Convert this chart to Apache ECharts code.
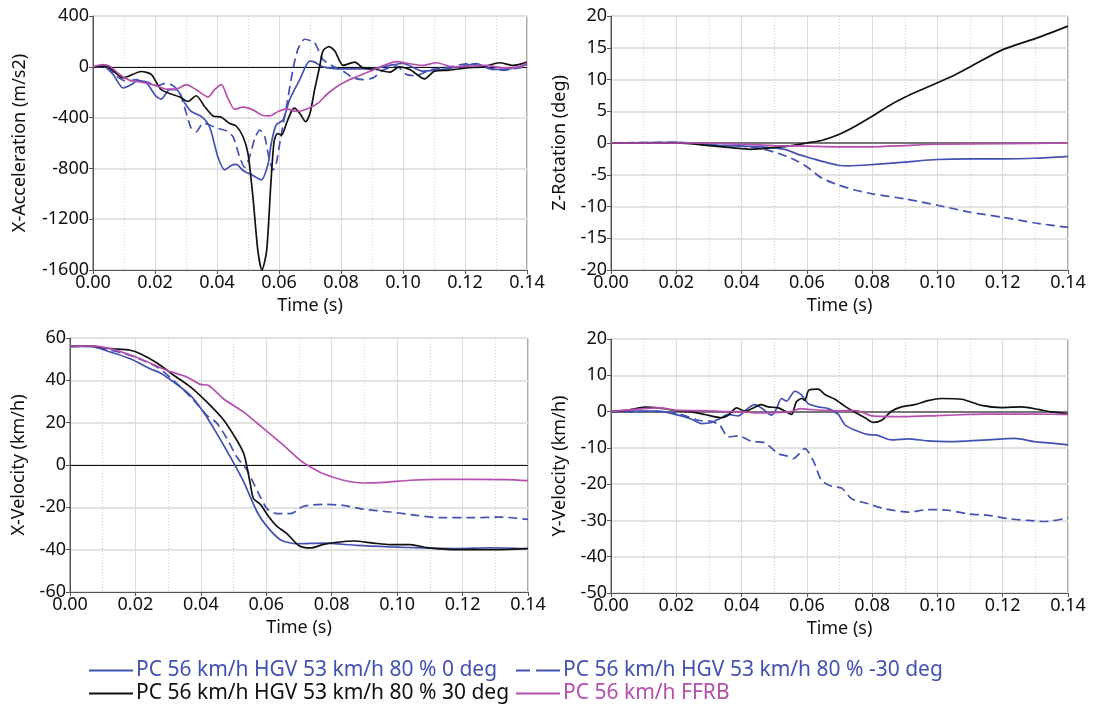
<!DOCTYPE html>
<html>
<head>
    <meta charset="UTF-8">
    <title>Crash pulse comparison</title>
    <script src="https://cdn.jsdelivr.net/npm/echarts@6/dist/echarts.min.js"></script>
    <style>
        html, body {margin: 0; padding: 0; background: #fff;}
        #main {width: 1094px; height: 708px;}
    </style>
</head>
<body>
<div id="main"></div>
<script>
    // series names (legend)
    var names = [
        'PC 56 km/h HGV 53 km/h 80 % 0 deg',
        'PC 56 km/h HGV 53 km/h 80 % -30 deg',
        'PC 56 km/h HGV 53 km/h 80 % 30 deg',
        'PC 56 km/h FFRB'
    ];
    var timeTicks = [0, 0.02, 0.04, 0.06, 0.08, 0.10, 0.12, 0.14];

    // X-Acceleration (m/s2)  [time, value]
    var accX_0 = [[0,0],[0.0032,5],[0.0065,-61],[0.0097,-167],[0.0124,-140],[0.0145,-106],[0.0172,-127],[0.0204,-233],[0.022,-254],[0.0247,-180],[0.0269,-180],[0.0296,-286],[0.0317,-352],[0.035,-392],[0.0376,-472],[0.0403,-710],[0.0425,-811],[0.0446,-777],[0.0462,-769],[0.0484,-816],[0.0516,-856],[0.0543,-890],[0.0565,-763],[0.0575,-604],[0.0591,-458],[0.0613,-419],[0.0634,-260],[0.0667,-101],[0.0699,45],[0.0715,37],[0.0742,0],[0.0807,-16],[0.0893,-16],[0.0957,11],[0.1,26],[0.1064,-34],[0.1129,-21],[0.1193,5],[0.1236,26],[0.129,-21],[0.1344,-16],[0.14,18]];
    var accX_m30 = [[0,0],[0.0043,0],[0.0075,-74],[0.0108,-114],[0.014,-101],[0.0177,-122],[0.0204,-154],[0.0231,-132],[0.0258,-148],[0.028,-207],[0.0301,-366],[0.0317,-485],[0.0333,-511],[0.0355,-445],[0.0376,-458],[0.0403,-485],[0.043,-504],[0.0452,-551],[0.0473,-710],[0.0489,-790],[0.0505,-710],[0.0522,-564],[0.0538,-498],[0.0554,-551],[0.0567,-710],[0.0581,-811],[0.0591,-763],[0.0604,-578],[0.0624,-313],[0.0645,-21],[0.0661,138],[0.0683,217],[0.0704,204],[0.0715,191],[0.0742,58],[0.0774,5],[0.0807,-34],[0.0839,-87],[0.0871,-101],[0.0904,-87],[0.0936,-26],[0.0979,5],[0.1011,-61],[0.1043,-69],[0.1086,-26],[0.115,0],[0.1215,26],[0.1269,-8],[0.1322,-26],[0.14,5]];
    var accX_30 = [[0,0],[0.0043,5],[0.0097,-87],[0.0156,-37],[0.0188,-60],[0.022,-180],[0.028,-238],[0.0306,-273],[0.0333,-228],[0.036,-313],[0.0387,-387],[0.0414,-397],[0.044,-445],[0.0462,-466],[0.0484,-551],[0.05,-684],[0.0516,-1028],[0.0532,-1452],[0.0545,-1600],[0.056,-1452],[0.0573,-949],[0.0584,-591],[0.0595,-525],[0.0608,-538],[0.0624,-445],[0.064,-352],[0.065,-326],[0.0667,-366],[0.0686,-432],[0.07,-366],[0.0715,-180],[0.0731,0],[0.0742,125],[0.0761,159],[0.078,125],[0.0807,11],[0.0844,37],[0.0871,-8],[0.0914,-21],[0.0957,-42],[0.0989,0],[0.1022,-21],[0.107,-95],[0.1102,-34],[0.115,-26],[0.1204,-8],[0.1258,0],[0.1312,32],[0.1355,11],[0.14,37]];
    var accX_ffrb = [[0,0],[0.0032,18],[0.0054,5],[0.0086,-61],[0.0118,-106],[0.0161,-122],[0.0204,-148],[0.0237,-175],[0.0269,-175],[0.0301,-140],[0.0333,-180],[0.0371,-238],[0.0392,-180],[0.0414,-140],[0.0435,-246],[0.0457,-334],[0.0484,-318],[0.0516,-339],[0.0543,-379],[0.057,-387],[0.0597,-352],[0.0624,-331],[0.0656,-352],[0.0688,-334],[0.0726,-286],[0.0753,-220],[0.0785,-159],[0.0817,-114],[0.086,-69],[0.0903,-26],[0.0946,18],[0.0978,40],[0.1022,24],[0.1064,11],[0.1107,32],[0.1161,0],[0.1215,5],[0.1269,11],[0.1322,-8],[0.1376,0],[0.14,32]];

    // Z-Rotation (deg)
    var rotZ_0 = [[0,0],[0.02,0.1],[0.03,-0.3],[0.04,-0.5],[0.0461,-0.6],[0.0533,-1.0],[0.0573,-1.8],[0.0614,-2.4],[0.0655,-3.0],[0.0696,-3.5],[0.0727,-3.6],[0.08,-3.4],[0.09,-3.0],[0.1,-2.6],[0.11,-2.5],[0.12,-2.5],[0.13,-2.4],[0.14,-2.1]];
    var rotZ_m30 = [[0,0],[0.02,0.1],[0.03,-0.3],[0.04,-0.5],[0.0461,-0.9],[0.0522,-1.8],[0.0573,-2.9],[0.0604,-3.9],[0.0645,-5.5],[0.0696,-6.6],[0.0747,-7.4],[0.08,-8.0],[0.09,-8.8],[0.1,-9.8],[0.11,-10.9],[0.12,-11.7],[0.13,-12.6],[0.14,-13.3]];
    var rotZ_30 = [[0,0],[0.02,0],[0.03,-0.4],[0.04,-0.9],[0.043,-1.0],[0.05,-0.7],[0.0553,-0.4],[0.06,0],[0.0645,0.4],[0.0696,1.3],[0.0747,2.6],[0.08,4.2],[0.0849,5.8],[0.09,7.2],[0.0951,8.4],[0.1,9.5],[0.1053,10.7],[0.1104,12.1],[0.12,14.7],[0.1308,16.6],[0.14,18.4]];
    var rotZ_ffrb = [[0,0],[0.03,0],[0.04,-0.2],[0.05,-0.4],[0.06,-0.5],[0.07,-0.6],[0.08,-0.6],[0.09,-0.4],[0.1,-0.2],[0.12,-0.1],[0.14,0]];

    // X-Velocity (km/h)
    var velX_0 = [[0,56],[0.0062,56],[0.0123,53.4],[0.0184,50.2],[0.0245,45.5],[0.0276,43.5],[0.0317,39.2],[0.0368,32.9],[0.0408,25],[0.0449,14.8],[0.049,3.8],[0.0531,-8],[0.0572,-22.2],[0.0602,-29],[0.0643,-35.3],[0.0694,-37.2],[0.0775,-36.9],[0.0877,-38],[0.0979,-38.7],[0.108,-39.2],[0.1183,-39.5],[0.1285,-39.1],[0.14,-39.5]];
    var velX_m30 = [[0,56],[0.0062,56],[0.0123,54.2],[0.0184,51.8],[0.0266,46.3],[0.0327,38.4],[0.0378,30.6],[0.0418,23.5],[0.0449,19.8],[0.048,12.4],[0.051,3.8],[0.0541,-2.5],[0.0572,-12],[0.0602,-20.6],[0.0633,-23],[0.0674,-23],[0.0714,-19.5],[0.0775,-18.6],[0.0836,-19.1],[0.0897,-20.9],[0.0979,-22.2],[0.106,-23.8],[0.1132,-24.9],[0.1234,-24.9],[0.1316,-24.6],[0.14,-25.7]];
    var velX_30 = [[0,56],[0.0062,56.3],[0.0123,55],[0.0184,54.2],[0.0215,52.6],[0.0266,48.2],[0.0317,42.4],[0.0368,36.9],[0.0418,29.8],[0.0469,21.4],[0.051,11.7],[0.0531,5.4],[0.0541,-0.9],[0.0551,-8.8],[0.0561,-15.9],[0.0582,-18.6],[0.0607,-24.3],[0.0633,-29],[0.0663,-32.4],[0.0699,-38],[0.0735,-39.2],[0.0775,-37.5],[0.0816,-36.5],[0.0867,-35.9],[0.0928,-36.9],[0.0979,-37.6],[0.104,-37.6],[0.1091,-39],[0.1183,-40],[0.1285,-40],[0.14,-39.5]];
    var velX_ffrb = [[0,56],[0.0062,56.3],[0.0123,55],[0.0215,50.2],[0.0296,44.7],[0.0357,41.6],[0.0398,38.1],[0.0424,37.6],[0.0469,31.3],[0.0531,25],[0.0592,17.2],[0.0653,9.3],[0.0704,2.2],[0.0735,-0.9],[0.0775,-4.1],[0.0836,-7.2],[0.0897,-8.5],[0.0959,-8.2],[0.104,-7.2],[0.1132,-6.8],[0.1234,-6.8],[0.1336,-6.9],[0.14,-7.4]];

    // Y-Velocity (km/h)
    var velY_0 = [[0,0],[0.0084,0.1],[0.0145,0.1],[0.0206,-1.0],[0.0247,-2.1],[0.0278,-3.3],[0.0308,-3.0],[0.0334,-1.9],[0.0359,-0.8],[0.039,-1.2],[0.0415,0.6],[0.0439,1.9],[0.0461,1.0],[0.0492,-1.0],[0.0507,0.8],[0.0522,3.6],[0.0538,2.9],[0.0563,5.6],[0.0584,4.5],[0.0604,2.2],[0.0635,1.3],[0.0665,0.8],[0.0696,-0.8],[0.0717,-3.7],[0.0747,-5.1],[0.0784,-6.3],[0.0815,-6.5],[0.0859,-7.8],[0.0911,-7.5],[0.0971,-8.1],[0.1033,-8.3],[0.1094,-8.1],[0.1156,-7.8],[0.1237,-7.4],[0.1298,-8.3],[0.1349,-8.7],[0.14,-9.2]];
    var velY_m30 = [[0,0],[0.0135,0],[0.0206,-0.6],[0.0267,-2.4],[0.0308,-2.7],[0.0334,-3.8],[0.0359,-7.0],[0.039,-6.7],[0.0431,-8.2],[0.0471,-8.6],[0.0512,-11.6],[0.0538,-12.2],[0.0558,-13.0],[0.0594,-10.2],[0.0619,-13.4],[0.0645,-19.0],[0.0676,-20.6],[0.0707,-21.1],[0.0737,-24.0],[0.0788,-25.4],[0.0839,-26.8],[0.0911,-27.7],[0.0971,-27.0],[0.1033,-27.2],[0.1094,-28.2],[0.1156,-28.6],[0.1217,-29.5],[0.1278,-30.0],[0.1329,-30.3],[0.14,-29.3]];
    var velY_30 = [[0,0],[0.0053,0.4],[0.0104,1.2],[0.0145,1.0],[0.0196,0.3],[0.0247,-0.1],[0.0288,-0.8],[0.0339,-1.7],[0.0359,-1.0],[0.0385,1.0],[0.041,0.1],[0.0436,1.0],[0.0459,1.9],[0.0482,1.3],[0.0512,1.0],[0.0538,-0.1],[0.0553,-0.8],[0.0568,2.7],[0.0584,3.6],[0.0594,3.1],[0.0606,5.9],[0.0635,6.2],[0.0655,4.7],[0.0686,3.4],[0.0716,1.5],[0.0747,-0.2],[0.0778,-1.7],[0.0804,-3.0],[0.0829,-2.4],[0.0859,0.1],[0.089,1.3],[0.093,1.9],[0.0971,3.0],[0.1012,3.6],[0.1074,3.4],[0.1135,1.7],[0.1197,1.1],[0.1258,1.3],[0.1309,0.6],[0.1349,-0.1],[0.14,-0.6]];
    var velY_ffrb = [[0,0],[0.01,0.8],[0.015,1.0],[0.02,0.4],[0.03,0.2],[0.035,0],[0.04,0],[0.045,-0.4],[0.05,-0.3],[0.055,0],[0.058,0.8],[0.062,0.5],[0.07,0.2],[0.075,0.3],[0.08,-1.2],[0.09,-1.4],[0.1,-1.1],[0.11,-0.8],[0.12,-0.7],[0.13,-0.7],[0.14,-0.8]];

    var blue = '#4152b2', black = '#111111', magenta = '#b64fae';
    var font = 'Noto Sans';
    var fs = 18;

    var grids = [
        {left: 93, top: 16, width: 434, height: 254},
        {left: 611, top: 16, width: 457, height: 254},
        {left: 70, top: 338, width: 458, height: 254},
        {left: 611, top: 339, width: 457, height: 254}
    ];
    var yAxes = [
        {name: 'X-Acceleration (m/s2)', min: -1600, max: 400, interval: 400, gap: 64},
        {name: 'Z-Rotation (deg)', min: -20, max: 20, interval: 5, gap: 42},
        {name: 'X-Velocity (km/h)', min: -60, max: 60, interval: 20, gap: 42},
        {name: 'Y-Velocity (km/h)', min: -50, max: 20, interval: 10, gap: 42}
    ];
    var zeroColor = ['#111', '#777', '#111', '#777'];
    var zeroWidth = [1, 2, 1, 2];
    var panels = [
        [accX_0, accX_m30, accX_30, accX_ffrb],
        [rotZ_0, rotZ_m30, rotZ_30, rotZ_ffrb],
        [velX_0, velX_m30, velX_30, velX_ffrb],
        [velY_0, velY_m30, velY_30, velY_ffrb]
    ];
    var colors = [blue, blue, black, magenta];
    var types = ['solid', [9, 5], 'solid', 'solid'];

    var xAxis = [], yAxis = [], series = [];
    for (var i = 0; i < 4; i++) {
        grids[i].show = true;
        grids[i].borderColor = '#555';
        grids[i].borderWidth = 1;
        xAxis.push({
            type: 'value', gridIndex: i,
            min: timeTicks[0], max: timeTicks[timeTicks.length - 1], interval: 0.02,
            name: 'Time (s)', nameLocation: 'middle', nameGap: 27,
            nameTextStyle: {fontFamily: font, fontSize: fs, color: '#111'},
            axisLine: {show: true, onZero: false, lineStyle: {color: '#555'}},
            axisTick: {show: true, length: 4, lineStyle: {color: '#555'}},
            axisLabel: {fontFamily: font, fontSize: fs, color: '#111', margin: 4,
                formatter: function (v) { return v.toFixed(2); }},
            splitLine: {show: true, lineStyle: {color: '#dcdcdc', width: 1}},
            minorTick: {show: false, splitNumber: 2},
            minorSplitLine: {show: true, lineStyle: {color: '#d0d0d0', type: [1, 2], width: 1}}
        });
        yAxis.push({
            type: 'value', gridIndex: i,
            min: yAxes[i].min, max: yAxes[i].max, interval: yAxes[i].interval,
            name: yAxes[i].name, nameLocation: 'middle', nameGap: yAxes[i].gap, nameRotate: 90,
            nameTextStyle: {fontFamily: font, fontSize: fs, color: '#111'},
            axisLine: {show: true, onZero: false, lineStyle: {color: '#555'}},
            axisTick: {show: true, length: 4, lineStyle: {color: '#555'}},
            axisLabel: {fontFamily: font, fontSize: fs, color: '#111', margin: 4,
                formatter: function (v) { return String(v); }},
            splitLine: {show: true, lineStyle: {color: '#e2e2e2', width: 2}}
        });
        for (var k = 0; k < 4; k++) {
            var s = {
                name: names[k], type: 'line',
                xAxisIndex: i, yAxisIndex: i,
                data: panels[i][k],
                showSymbol: false, symbol: 'none',
                smooth: 0.25,
                lineStyle: {color: colors[k], width: 1.7, type: types[k]},
                itemStyle: {color: colors[k]},
                z: 3
            };
            if (k === 0) {
                s.markLine = {
                    silent: true, symbol: 'none', label: {show: false}, z: 2,
                    lineStyle: {color: zeroColor[i], width: zeroWidth[i], type: 'solid'},
                    data: [{yAxis: 0}]
                };
            }
            series.push(s);
        }
    }

    // one legend block per item, placed like the original
    var solidIcon = 'path://M0,0H44V2H0Z';
    var dashIcon = 'path://M0,0H14V2H0Z M20,0H44V2H20Z';
    var legendIcons = [solidIcon, dashIcon, solidIcon, solidIcon];
    var legendPos = [[89, 660], [516, 660], [89, 683], [516, 683]];
    var legend = [];
    for (var j = 0; j < 4; j++) {
        legend.push({
            left: legendPos[j][0], top: legendPos[j][1],
            padding: 0, itemWidth: 44, itemHeight: 2, itemGap: 0,
            selectedMode: false,
            icon: legendIcons[j],
            itemStyle: {color: colors[j]},
            textStyle: {fontFamily: font, fontSize: 21, color: colors[j], padding: [0, 0, 0, -2]},
            data: [{name: names[j], icon: legendIcons[j], itemStyle: {color: colors[j]}, textStyle: {color: colors[j]}}]
        });
    }

    var myChart = echarts.init(document.getElementById('main'));
    var option = {
        animation: false,
        backgroundColor: '#fff',
        grid: grids,
        xAxis: xAxis,
        yAxis: yAxis,
        legend: legend,
        series: series
    };
    myChart.setOption(option);
</script>
</body>
</html>
